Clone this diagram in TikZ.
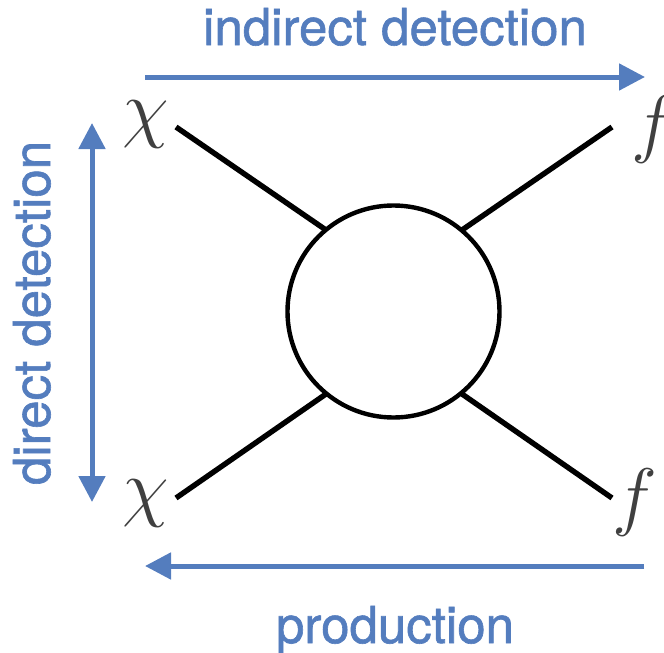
\documentclass[tikz,border=0pt]{standalone}
\usepackage{fontspec}
\newfontfamily\lblfont[FakeBold=1.2]{TeX Gyre Heros}
\usetikzlibrary{arrows.meta}
\definecolor{dmblue}{RGB}{84,125,190}
\definecolor{lblgray}{RGB}{64,64,64}
\tikzset{
  leg/.style={line width=5.4pt, black},
  blob/.style={circle, draw=black, line width=4.4pt, minimum size=212pt, inner sep=0pt},
  flow/.style={line width=5pt, dmblue, -{Triangle[length=26pt,width=26pt]}},
  flowboth/.style={line width=5pt, dmblue, {Triangle[length=26pt,width=26pt]}-{Triangle[length=26pt,width=26pt]}},
  lbl/.style={font=\lblfont\fontsize{51}{51}\selectfont, text=dmblue, anchor=base, inner sep=0pt},
  ptc/.style={font=\Huge, scale=3.05, text=lblgray, inner sep=0pt}
}
\begin{document}
\begin{tikzpicture}[x=1pt,y=-1pt]
\useasboundingbox (0,0) rectangle (664,653);
\node[blob] (c) at (393.5,311.5) {};
\coordinate (tlo) at (176,127);
\coordinate (tli) at (326,230);
\coordinate (tro) at (612,127);
\coordinate (tri) at (462,230);
\coordinate (blo) at (176,498);
\coordinate (bli) at (326,394);
\coordinate (bro) at (612,498);
\coordinate (bri) at (462,394);
\draw[leg] (tlo) -- (tli);
\draw[leg] (tro) -- (tri);
\draw[leg] (blo) -- (bli);
\draw[leg] (bro) -- (bri);
\node[ptc] (x1) at (146,125) {$\chi$};
\node[ptc] (x2) at (146,504) {$\chi$};
\node[ptc] (f1) at (654,130) {$f$};
\node[ptc] (f2) at (635,503) {$f$};
\coordinate (ta) at (145,77);
\coordinate (tb) at (645,77);
\coordinate (la) at (92,123);
\coordinate (lb) at (92,502);
\coordinate (ba) at (644,566);
\coordinate (bb) at (145,566);
\draw[flow] (ta) -- (tb);
\draw[flow] (ba) -- (bb);
\draw[flowboth] (la) -- (lb);
\node[lbl] (t1) at (395,45) {indirect detection};
\node[lbl] (t2) at (395,643) {production};
\node[lbl, rotate=90] (t3) at (50,313) {direct detection};
\end{tikzpicture}
\end{document}
